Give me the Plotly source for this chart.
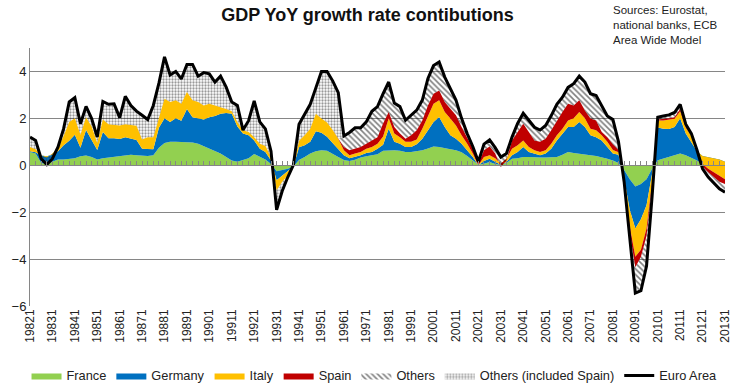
import plotly.graph_objects as go

# ---------------- data ----------------
quarters = [f"{y}{q}" for y in range(1982, 2014) for q in range(1, 5)][:125]
tick_labels = [f"{y}1" for y in range(1982, 2014)]

france = [0.57, 0.5, 0.1, 0.05, 0.15, 0.25, 0.25, 0.28, 0.3, 0.38, 0.42, 0.35, 0.25, 0.3, 0.33, 0.35,
          0.38, 0.42, 0.45, 0.43, 0.4, 0.4, 0.43, 0.75, 0.95, 1.0, 1.0, 1.0, 1.0, 0.97, 0.92, 0.82,
          0.72, 0.6, 0.5, 0.35, 0.2, 0.15, 0.22, 0.3, 0.48, 0.38, 0.25, 0.05, -0.25, -0.2, -0.15, -0.05,
          0.22, 0.35, 0.5, 0.6, 0.64, 0.62, 0.5, 0.35, 0.22, 0.18, 0.24, 0.33, 0.38, 0.43, 0.47, 0.62,
          0.64, 0.64, 0.62, 0.57, 0.57, 0.6, 0.64, 0.72, 0.8, 0.78, 0.72, 0.68, 0.64, 0.55, 0.4, 0.2,
          0.02, 0.07, 0.14, 0.05, 0.02, 0.1, 0.28, 0.3, 0.35, 0.35, 0.33, 0.33, 0.33, 0.33, 0.35, 0.45,
          0.57, 0.52, 0.5, 0.47, 0.43, 0.4, 0.35, 0.28, 0.2, 0.1, -0.2, -0.6, -0.9, -0.8, -0.6, -0.15,
          0.21, 0.28, 0.35, 0.43, 0.5, 0.43, 0.33, 0.2, 0.05, 0.0, 0.0, -0.02, -0.05]

germany = [0.03, 0.05, 0.32, 0.33, 0.3, 0.35, 0.6, 0.77, 1.0, 0.37, 1.08, 0.75, 0.4, 1.12, 0.82, 0.8,
           0.74, 0.78, 0.7, 0.65, 0.3, 0.3, 0.25, 0.85, 1.05, 0.84, 1.0, 0.9, 1.4, 1.08, 1.08, 1.13,
           1.33, 1.5, 1.7, 1.88, 2.0, 1.5, 1.13, 0.98, 0.58, 0.32, 0.32, 0.15, -0.39, -0.25, -0.13, 0.0,
           0.55, 0.5, 0.5, 0.85, 0.75, 0.6, 0.45, 0.35, 0.21, 0.12, 0.11, 0.1, 0.14, 0.14, 0.23, 0.26,
           0.92, 0.36, 0.3, 0.21, 0.21, 0.3, 0.49, 0.77, 1.04, 1.28, 0.91, 0.6, 0.49, 0.37, 0.24, 0.15,
           -0.02, 0.11, 0.14, 0.09, 0.0, 0.04, 0.15, 0.27, 0.43, 0.22, 0.17, 0.1, 0.17, 0.37, 0.71, 0.9,
           1.06, 1.11, 1.34, 1.16, 0.85, 0.8, 0.71, 0.5, 0.3, 0.35, -0.35, -1.3, -1.8, -1.5, -1.1, -0.2,
           1.4, 1.28, 1.2, 1.2, 1.5, 0.92, 0.67, 0.4, 0.35, 0.35, 0.3, 0.27, 0.2]

italy = [0.18, 0.13, 0.0, -0.05, 0.05, 0.15, 0.4, 0.8, 0.7, 0.55, 0.55, 0.55, 0.3, 0.53, 0.6, 0.57,
         0.58, 0.55, 0.57, 0.6, 0.4, 0.5, 0.52, 0.4, 0.84, 0.86, 0.77, 0.72, 0.72, 0.72, 0.7, 0.6,
         0.57, 0.45, 0.28, 0.17, 0.1, 0.2, 0.14, 0.14, 0.14, 0.22, 0.25, 0.15, -0.42, -0.25, -0.15, 0.0,
         0.28, 0.43, 0.56, 0.75, 0.6, 0.6, 0.55, 0.43, 0.21, 0.13, 0.15, 0.14, 0.18, 0.21, 0.22, 0.35,
         0.44, 0.35, 0.28, 0.22, 0.22, 0.2, 0.43, 0.64, 0.78, 0.71, 0.64, 0.71, 0.57, 0.36, 0.28, 0.15,
         0.0, 0.17, 0.15, 0.16, 0.05, 0.14, 0.27, 0.28, 0.28, 0.21, 0.14, 0.14, 0.14, 0.22, 0.22, 0.21,
         0.28, 0.37, 0.43, 0.37, 0.28, 0.29, 0.22, 0.22, 0.15, 0.1, -0.05, -0.7, -1.2, -1.3, -1.0, -0.35,
         0.3, 0.35, 0.4, 0.35, 0.3, 0.25, 0.25, 0.05, -0.35, -0.5, -0.6, -0.7, -0.75]

spain = [None] * 56 + [
    0.14, 0.21, 0.2, 0.21, 0.22, 0.28, 0.28, 0.55,
    0.27, 0.28, 0.15, 0.13, 0.28, 0.39, 0.35, 0.42, 0.43, 0.42, 0.43, 0.42, 0.43, 0.35, 0.28, 0.21,
    0.07, 0.29, 0.37, 0.2, -0.14, -0.08, 0.36, 0.57, 0.71, 0.64, 0.42, 0.43, 0.49, 0.57, 0.63, 0.71,
    0.71, 0.55, 0.5, 0.34, 0.43, 0.42, 0.14, 0.2, 0.25, 0.1, 0.0, -0.25, -0.45, -0.3, -0.3, -0.15,
    0.04, 0.05, 0.05, 0.07, 0.1, 0.05, 0.0, -0.02, -0.1, -0.15, -0.2, -0.25, -0.2]

others = [None] * 56 + [
    0.47, 0.76, 0.9, 0.82, 0.93, 1.24, 1.3, 1.27,
    1.28, 1.02, 1.15, 0.79, 0.85, 0.86, 0.87, 1.15, 1.2, 1.21, 1.06, 0.84, 0.65, 0.37, 0.15, 0.09,
    0.08, 0.26, 0.28, 0.25, 0.42, 0.3, 0.14, 0.36, 0.45, 0.5, 0.56, 0.5, 0.57, 0.63, 0.69, 0.63,
    0.7, 0.93, 1.03, 1.21, 1.06, 1.06, 1.13, 0.9, 1.05, 0.35, -0.1, -0.35, -1.1, -1.45, -1.3, -0.45,
    0.1, 0.14, 0.15, 0.2, 0.2, 0.1, 0.1, 0.02, -0.1, -0.2, -0.25, -0.3, -0.35]

others_incl_spain = [
    0.42, 0.38, -0.14, -0.3, -0.22, 0.03, 0.31, 0.85, 0.88, 0.47, 0.46, 0.34, 0.25, 0.77, 0.85, 0.9,
    0.33, 1.19, 0.83, 0.63, 1.03, 0.75, 1.35, 1.5, 1.78, 1.15, 1.23, 1.06, 1.18, 1.53, 1.1, 1.4,
    1.28, 1.0, 1.32, 0.93, 0.4, 0.7, 0.01, 0.48, 1.54, 0.93, 0.73, 0.25, -0.84, -0.4, -0.07, 0.07,
    0.7, 0.92, 1.04, 1.1, 2.01, 2.18, 2.1, 1.97] + [None] * 69

euro_area = [1.2, 1.06, 0.28, 0.03, 0.28, 0.78, 1.56, 2.7, 2.88, 1.77, 2.51, 1.99, 1.2, 2.72, 2.6, 2.62,
             2.03, 2.94, 2.55, 2.31, 2.13, 1.95, 2.55, 3.5, 4.62, 3.85, 4.0, 3.68, 4.3, 4.3, 3.8, 3.95,
             3.9, 3.55, 3.8, 3.33, 2.7, 2.55, 1.5, 1.9, 2.74, 1.85, 1.55, 0.6, -1.9, -1.1, -0.5, 0.02,
             1.75, 2.2, 2.6, 3.3, 4.0, 4.0, 3.6, 3.1, 1.25, 1.4, 1.6, 1.6, 1.85, 2.3, 2.5, 3.05,
             3.55, 2.65, 2.5, 1.92, 2.13, 2.35, 2.78, 3.7, 4.25, 4.4, 3.76, 3.25, 2.78, 2.0, 1.35, 0.8,
             0.15, 0.9, 1.08, 0.75, 0.35, 0.5, 1.2, 1.78, 2.22, 1.92, 1.62, 1.5, 1.7, 2.12, 2.6, 2.9,
             3.32, 3.48, 3.8, 3.55, 3.05, 2.97, 2.55, 2.1, 1.95, 1.0, -0.7, -3.2, -5.45, -5.35, -4.3, -1.3,
             2.05, 2.1, 2.15, 2.25, 2.6, 1.75, 1.35, 0.65, -0.15, -0.5, -0.75, -1.0, -1.15]

# ---------------- figure ----------------
GRID = "#868686"
FONT = "Liberation Sans, Arial, sans-serif"


def present(vals):
    xs = [i for i, v in enumerate(vals) if v is not None]
    ys = [v for v in vals if v is not None]
    return xs, ys


fig = go.Figure()

solid_series = [("France", france, "#92D050"), ("Germany", germany, "#0070C0"),
                ("Italy", italy, "#FFC000"), ("Spain", spain, "#C00000")]
for name, vals, col in solid_series:
    xs, ys = present(vals)
    fig.add_trace(go.Scatter(x=xs, y=ys, name=name, mode="lines", stackgroup="eu",
                             stackgaps="infer zero", line=dict(width=0, color=col),
                             fillcolor=col, hoverinfo="skip"))

xs, ys = present(others)
fig.add_trace(go.Scatter(x=xs, y=ys, name="Others", mode="lines", stackgroup="eu",
                         line=dict(width=0, color="black"), fillcolor="rgba(255,255,255,0)",
                         fillpattern=dict(shape="\\", fgcolor="black", bgcolor="rgba(255,255,255,0)",
                                          size=4, solidity=0.4),
                         hoverinfo="skip"))

xs, ys = present(others_incl_spain)
fig.add_trace(go.Scatter(x=xs, y=ys, name="Others (included Spain)", mode="lines", stackgroup="eu",
                         line=dict(width=0, color="#555555"), fillcolor="rgba(255,255,255,0)",
                         fillpattern=dict(shape=".", fgcolor="#333333", bgcolor="rgba(255,255,255,0)",
                                          size=3, solidity=0.45),
                         hoverinfo="skip"))

fig.add_trace(go.Scatter(x=list(range(len(euro_area))), y=euro_area, name="Euro Area", mode="lines",
                         line=dict(color="black", width=3), hoverinfo="skip"))

# helper (empty) trace so the zero-line axis with quarter ticks is drawn
fig.add_trace(go.Scatter(x=[0, len(quarters) - 1], y=[None, None], xaxis="x2", mode="lines",
                         showlegend=False, hoverinfo="skip"))

n = len(quarters)
fig.update_layout(
    width=735, height=391,
    margin=dict(l=30, r=10, t=48, b=85, autoexpand=False),
    paper_bgcolor="white", plot_bgcolor="white",
    font=dict(family=FONT, color="#222222"),
    title=dict(text="<b>GDP YoY growth rate contibutions</b>", x=0.5, xanchor="center",
               y=0.962, yanchor="middle", font=dict(size=18, color="#111111")),
    xaxis=dict(range=[0, n - 1], tickmode="array", tickvals=list(range(0, n, 4)), ticktext=tick_labels,
               tickangle=-90, showgrid=False, zeroline=False, showline=False, ticks="",
               tickfont=dict(size=12), automargin=False),
    xaxis2=dict(overlaying="x", range=[0, n - 1], anchor="free", position=6 / 11, side="bottom",
                ticks="inside", ticklen=4, tickcolor=GRID, tickmode="array", tickvals=list(range(n)),
                showticklabels=False, showline=True, linecolor=GRID, linewidth=1,
                showgrid=False, zeroline=False),
    yaxis=dict(range=[-6, 5], tickmode="array", tickvals=[-6, -4, -2, 0, 2, 4], showgrid=True,
               gridcolor=GRID, gridwidth=1, zeroline=False, showline=True, linecolor=GRID,
               ticks="", tickfont=dict(size=13), automargin=False),
    legend=dict(orientation="h", x=-0.005, xanchor="left", y=-0.27, yanchor="middle",
                font=dict(size=12.8, family=FONT), traceorder="normal", itemwidth=30,
                bgcolor="rgba(255,255,255,0)"),
    showlegend=True,
    annotations=[dict(text="Sources: Eurostat,<br>national banks, ECB<br>Area Wide Model",
                      xref="paper", yref="paper", x=0.836, y=1.18, xanchor="left", yanchor="top",
                      align="left", showarrow=False, font=dict(size=11.5, color="#222222"))],
)

fig.write_html("out.html", config={"displayModeBar": False},
               post_script="document.body.style.margin='0';")
